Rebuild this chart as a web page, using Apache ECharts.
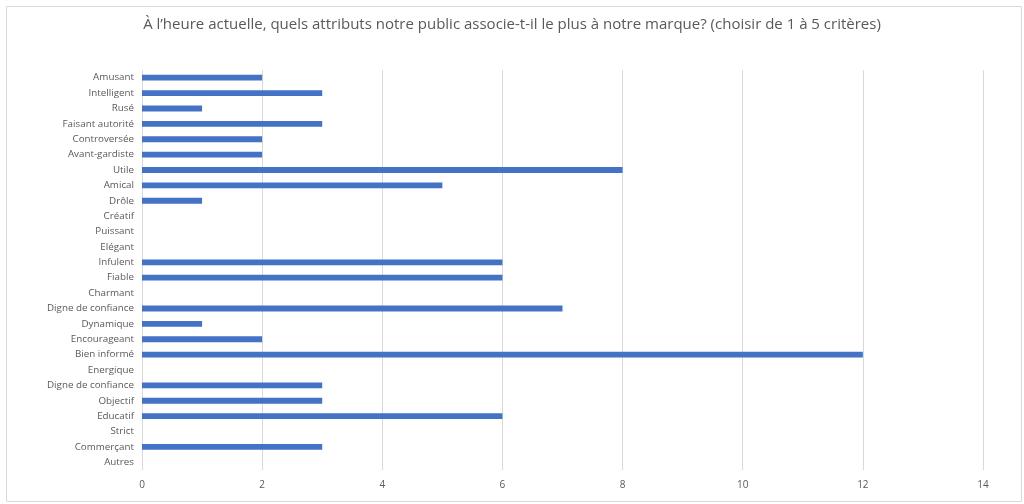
<!DOCTYPE html>
<html>
<head>
<meta charset="utf-8">
<script src="https://cdn.jsdelivr.net/npm/echarts@6/dist/echarts.min.js"></script>
<style>html,body{margin:0;padding:0;background:#fff;}#c{width:1024px;height:504px;}</style>
</head>
<body>
<div id="c"></div>
<script>
const categories = ["Amusant","Intelligent","Rusé","Faisant autorité","Controversée","Avant-gardiste","Utile","Amical","Drôle","Créatif","Puissant","Elégant","Infulent","Fiable","Charmant","Digne de confiance","Dynamique","Encourageant","Bien informé","Energique","Digne de confiance","Objectif","Educatif","Strict","Commerçant","Autres"];
const values = [2,3,1,3,2,2,8,5,1,0,0,0,6,6,0,7,1,2,12,0,3,3,6,0,3,0];
const titleText = "À l’heure actuelle, quels attributs notre public associe-t-il le plus à notre marque? (choisir de 1 à 5 critères)";

const chart = echarts.init(document.getElementById('c'));
chart.setOption({
  animation: false,
  backgroundColor: '#fff',
  graphic: [{
    type: 'rect', left: 4, top: 4,
    shape: { width: 1015, height: 495 },
    style: { fill: 'none', stroke: '#d9d9d9', lineWidth: 1 }
  }],
  title: {
    text: titleText, left: 'center', top: 12,
    textStyle: { fontFamily: 'Open Sans', fontSize: 15, fontWeight: 'normal', color: '#595959' }
  },
  grid: { left: 142, right: 41, top: 70, bottom: 34, containLabel: false },
  xAxis: {
    type: 'value', min: 0, max: 14, interval: 2,
    axisLine: { show: false }, axisTick: { show: false },
    axisLabel: { color: '#595959', fontSize: 10, fontFamily: 'Open Sans', margin: 10 },
    splitLine: { lineStyle: { color: '#d9d9d9', width: 1 } }
  },
  yAxis: {
    type: 'category', data: categories, inverse: true,
    axisLine: { show: false }, axisTick: { show: false },
    axisLabel: { color: '#595959', fontSize: 9.8, fontFamily: 'Open Sans', margin: 8, interval: 0 }
  },
  series: [{
    type: 'bar', data: values, barWidth: '38%',
    itemStyle: { color: '#4472C4' }
  }]
});
</script>
</body>
</html>
